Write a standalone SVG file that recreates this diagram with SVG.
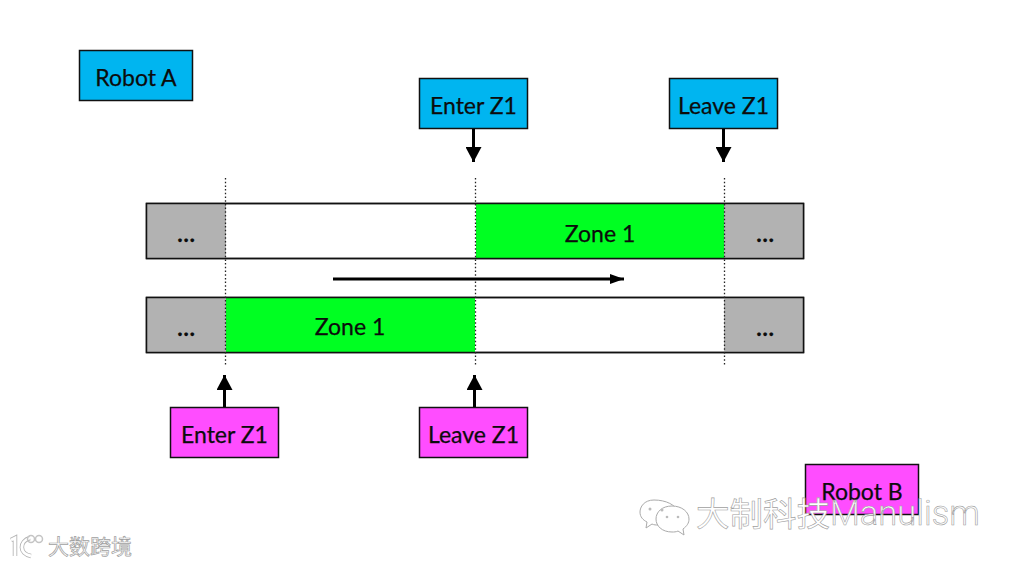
<svg xmlns="http://www.w3.org/2000/svg" width="1012" height="565" viewBox="0 0 1012 565">
<style>
text{font-family:Lato,"Liberation Sans","Noto Sans CJK SC",sans-serif;font-size:23px;fill:#0c0c0c;text-anchor:middle;stroke:#0c0c0c;stroke-width:.25}
.box{stroke:#111;stroke-width:1.5}
.blue{fill:#00b5f0}
.pink{fill:#ff4dff}
.grey{fill:#b2b2b2}
.green{fill:#00ff22}
.white{fill:#fff}
.dot{stroke:#222;stroke-width:1.3;stroke-dasharray:1.5 2.2;fill:none}
.arrow{stroke:#000;stroke-width:3;fill:none}
.dots{font-weight:700}
text.wm{fill:#fff;stroke:#a0a0a0;stroke-width:.6;font-family:"Noto Sans CJK SC","Liberation Sans",sans-serif;text-anchor:start}
text.wml{fill:#fff;stroke:#a0a0a0;stroke-width:.6;font-family:Roboto,"Liberation Sans",sans-serif;font-weight:300;text-anchor:start}
.wmicon{fill:#fff;stroke:#aaa;stroke-width:1}
.eye{fill:#bbb}
</style>
<defs>
<marker id="head" markerUnits="userSpaceOnUse" markerWidth="16" markerHeight="16" refX="15" refY="8" orient="auto"><path d="M0 0L15 8L0 16Z" fill="#000"/></marker>
<marker id="head2" markerUnits="userSpaceOnUse" markerWidth="14" markerHeight="12" refX="14" refY="5" orient="auto"><path d="M0 0L14 5L0 10Z" fill="#000"/></marker>
</defs>
<rect width="1012" height="565" fill="#fff"/>
<g id="track-top">
<rect class="box white" x="146.500" y="203.500" width="657" height="55"/>
<rect class="grey" x="147" y="204" width="79" height="54"/>
<rect class="green" x="476" y="204" width="248" height="54"/>
<rect class="grey" x="724" y="204" width="79" height="54"/>
<rect x="146.500" y="203.500" width="657" height="55" fill="none" stroke="#111" stroke-width="1.500"/>
<text class="dots" x="186" y="242">…</text>
<text x="600" y="241.500">Zone 1</text>
<text class="dots" x="765" y="242">…</text>
</g>
<g id="track-bottom">
<rect class="box white" x="146.500" y="297.500" width="657" height="55"/>
<rect class="grey" x="147" y="298" width="79" height="54"/>
<rect class="green" x="226" y="298" width="249" height="54"/>
<rect class="grey" x="724" y="298" width="79" height="54"/>
<rect x="146.500" y="297.500" width="657" height="55" fill="none" stroke="#111" stroke-width="1.500"/>
<text class="dots" x="186" y="336">…</text>
<text x="350" y="334.500">Zone 1</text>
<text class="dots" x="765" y="336">…</text>
</g>
<g id="robot-a"><rect class="box blue" x="79.500" y="50.500" width="113" height="50"/><text x="136" y="85.500">Robot A</text></g>
<g id="enter-z1-top"><rect class="box blue" x="419.500" y="78.500" width="108" height="50"/><text x="473.500" y="113.500">Enter Z1</text></g>
<g id="leave-z1-top"><rect class="box blue" x="669.500" y="78.500" width="108" height="50"/><text x="723.500" y="113.500">Leave Z1</text></g>
<g id="enter-z1-bottom"><rect class="box pink" x="170.500" y="407.500" width="108" height="50"/><text x="224.500" y="442.500">Enter Z1</text></g>
<g id="leave-z1-bottom"><rect class="box pink" x="419.500" y="407.500" width="108" height="50"/><text x="473.500" y="442.500">Leave Z1</text></g>
<g id="robot-b"><rect class="box pink" x="805.500" y="464.500" width="113" height="50"/><text x="862" y="499.500">Robot B</text></g>
<g id="connectors">
<path class="dot" d="M225.500 178V365M475.500 178V365M724.500 178V365"/>
<path class="arrow" d="M473.500 129V162" marker-end="url(#head)"/>
<path class="arrow" d="M723.500 129V162" marker-end="url(#head)"/>
<path class="arrow" d="M224.500 407V375" marker-end="url(#head)"/>
<path class="arrow" d="M474.500 407V375" marker-end="url(#head)"/>
<path class="arrow" d="M333 279H624" marker-end="url(#head2)"/>
</g>
<g id="watermark-right">
<path class="wmicon" d="M654 500C644 500 640 507 640 512C640 517 643 520 647 522L646 528L652 524C654 525 656 525 658 525L678 512C676 505 666 500 654 500Z"/>
<path class="wmicon" d="M672 506C662 506 656 512 656 519C656 526 662 532 672 532C674 532 676 532 678 531L684 535L683 529C687 526 689 523 689 519C689 512 682 506 672 506Z"/>
<circle class="eye" cx="650" cy="509" r="1.500"/><circle class="eye" cx="662" cy="510" r="1.500"/>
<circle class="eye" cx="667" cy="517" r="1.300"/><circle class="eye" cx="678" cy="517" r="1.300"/>
<text class="wm" x="696" y="526" style="font-size:33.500px">大制科技</text>
<text class="wml" x="830" y="525" style="font-size:34.500px">Manulism</text>
</g>
<g id="watermark-left">
<path d="M11 540L15 538V556M30 538C19 541 19 554 31 556" fill="none" stroke="#b4b4b4" stroke-width="4.500"/>
<path d="M11 540L15 538V556M30 538C19 541 19 554 31 556" fill="none" stroke="#fff" stroke-width="2.800"/>
<circle cx="31" cy="539" r="3.500" fill="none" stroke="#c4c4c4" stroke-width="1.500"/>
<circle cx="39" cy="539" r="3.500" fill="none" stroke="#c4c4c4" stroke-width="1.500"/>
<text class="wm" x="48" y="554" style="font-size:21px;stroke-width:.7">大数跨境</text>
</g>
</svg>
